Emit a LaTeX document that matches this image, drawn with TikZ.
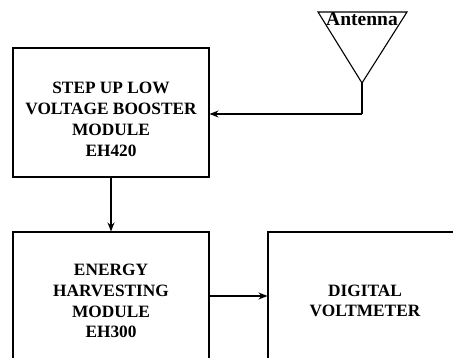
\documentclass[tikz,border=0pt]{standalone}
\usepackage{fontspec}
\setmainfont{Liberation Serif}
\usetikzlibrary{arrows.meta}

\tikzset{
  block/.style={draw, line width=1.1pt, align=center, inner sep=0pt,
    font=\fontsize{17.3}{20.8}\selectfont\bfseries},
  link/.style={line width=1.1pt, -{Stealth[length=9pt,width=7pt]}}
}

\begin{document}
\begin{tikzpicture}[x=1pt,y=-1pt]
\useasboundingbox (0,0) rectangle (453,358);

% Blocks
\node[block, minimum width=196pt, minimum height=129pt] (booster) at (111,112.5)
  {\rule{0pt}{25.5pt}STEP UP LOW\\VOLTAGE BOOSTER\\MODULE\\EH420};
\node[block, minimum width=196pt, minimum height=138pt] (harvest) at (111,301)
  {ENERGY\\HARVESTING\\MODULE\\EH300};
\node[block, minimum width=194pt, minimum height=138pt] (meter) at (365,301)
  {DIGITAL\\VOLTMETER};

% Antenna
\coordinate (antL) at (318,12);
\coordinate (antR) at (407,12);
\coordinate (antTip) at (362,83);
\coordinate (antFoot) at (362,114);
\draw[line width=1.1pt] (antL) -- (antR) -- (antTip) -- cycle;
\node[font=\fontsize{19.5}{22}\selectfont\bfseries, inner sep=0pt] (antLabel) at (362,19) {Antenna};

% Connections
\draw[line width=1.1pt] (antTip) -- (antFoot);
\draw[link] (antFoot) -- (booster.east |- antFoot);
\draw[link] (booster.south) -- (harvest.north);
\draw[link] (harvest.east |- 0,296) -- (meter.west |- 0,296);
\end{tikzpicture}
\end{document}
